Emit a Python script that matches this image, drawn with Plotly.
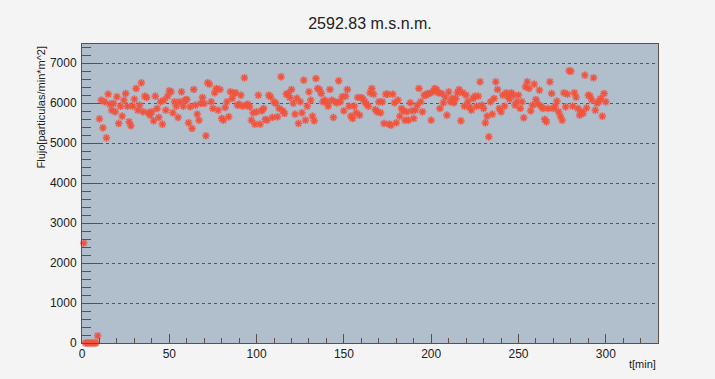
import plotly.graph_objects as go

# Flux measured every minute at 2592.83 m a.s.l.
# First minutes: detector start-up
startup_flux = [2500, 0, 0, 0, 0, 0, 0, 0, 180]

# Minutes 10-129
flux_a = [
    5608, 6075, 5383, 6033, 5133, 6225, 5975, 5825, 5992, 5783,
    6158, 5492, 5925, 5675, 6075, 6242, 5925, 5533, 5433, 5925,
    6100, 6367, 5825, 5950, 6508, 5783, 6175, 6142, 5758, 5700,
    5783, 5558, 6175, 5867, 5642, 6033, 5475, 6075, 5825, 6175,
    6308, 6283, 5758, 6033, 5925, 5642, 6033, 6283, 5925, 6075,
    6092, 5508, 5908, 5367, 6342, 5950, 5725, 5575, 5992, 6142, 5992,
    5183, 6508, 6475, 6033, 5867, 6258, 6367, 5825, 6342, 5617,
    5575, 5892, 6033, 5658, 6283, 6117, 6242, 6258, 5950, 5975,
    6200, 5925, 6633, 5950, 5975, 5908, 5575, 5758, 5475, 5783,
    6200, 5475, 5808, 5867, 5592, 5575, 6200, 6158, 5642, 6033,
    5992, 5658, 5867, 6658, 5808, 5742, 6225, 6242, 6142, 6342, 6000,
    5725, 6125, 5492, 6033, 5758, 6575, 5575, 5925,
]

# Minutes 130-300
flux_b = [
    6283, 6075, 5675, 5558, 6617, 6367, 6342, 6242, 6033, 6075,
    6033, 5925, 6342, 6075, 5642, 6033, 6008, 6558, 6033, 6158,
    5808, 6175, 6342, 5925, 5675, 5617, 5925, 5758, 6142, 5700,
    6142, 6100, 6033, 5975, 5925, 6258, 6367, 6225, 5842, 5783, 6033,
    5758, 6033, 5492, 6225, 6225, 5475, 5450, 6225, 6008, 5508,
    6075, 5675, 5867, 5808, 5575, 5783, 5575, 6008, 5808, 5617,
    5825, 5950, 6367, 6033, 5783, 6200, 6200, 6242, 6242, 5575, 6283,
    6367, 6342, 6258, 5867, 6242, 6008, 6150, 5700, 6283, 6033, 6117,
    6008, 6117, 6258, 6342, 5558, 6258, 5925, 6200, 6033, 5900, 5825,
    6117, 6175, 5925, 6175, 6533, 5950, 5867, 5508, 5675, 5158,
    6033, 5725, 6117, 6533, 6342, 5867, 5783, 6200, 5925, 6258,
    6158, 6100, 6258, 6200, 5950, 6033, 6200, 5867, 6033, 5633, 6408,
    6533, 6367, 5808, 5950, 6475, 6092, 5980, 6325, 5925, 5867, 5592,
    5533, 5867, 6533, 6242, 5867, 5925, 6050, 5783, 5675, 5575, 6258,
    5908, 6225, 6808, 6800, 5925, 6258, 6150, 5867, 5700, 5783, 5742,
    6700, 5880, 6200, 6175, 6075, 6633, 5825, 6000, 6033, 6117, 5675, 6242,
    6033,
]

flux = startup_flux + flux_a + flux_b
minutes = list(range(1, len(flux) + 1))

x_ticks = [0, 50, 100, 150, 200, 250, 300]
y_ticks = [0, 1000, 2000, 3000, 4000, 5000, 6000, 7000]

axis_color = "#5e4f4b"
font_family = "Liberation Sans, Arial, sans-serif"

fig = go.Figure()

# soft glow under each marker
fig.add_trace(go.Scatter(
    x=minutes, y=flux, mode="markers", cliponaxis=False,
    marker=dict(symbol="circle", size=8, color="rgba(240,105,130,0.32)",
                line=dict(width=0)),
    hoverinfo="skip",
))
# asterisk markers
fig.add_trace(go.Scatter(
    x=minutes, y=flux, mode="markers", cliponaxis=False,
    marker=dict(symbol="asterisk-open", size=6,
                line=dict(color="#e0121e", width=1.3)),
))

fig.update_layout(
    width=715, height=379,
    margin=dict(l=82, r=57, t=44, b=36),
    paper_bgcolor="#f4f4f4",
    plot_bgcolor="#b1bfcc",
    showlegend=False,
    font=dict(family=font_family, color="#222222"),
    title=dict(text="2592.83 m.s.n.m.", x=0.5, xref="paper",
               y=1 - 23 / 379, yanchor="middle",
               font=dict(size=16, color="#222222")),
)

fig.update_xaxes(
    range=[0, 329.9], tickvals=x_ticks, ticks="inside", ticklen=9,
    tickwidth=1, tickcolor=axis_color, showgrid=False, zeroline=False,
    showline=True, linecolor=axis_color, linewidth=1, mirror=True,
    tickfont=dict(size=12, color="#222222"),
    minor=dict(dtick=10, tick0=0, ticks="inside", ticklen=5,
               tickcolor=axis_color, showgrid=False),
)
fig.update_yaxes(
    range=[0, 7480], tickvals=y_ticks, ticks="inside", ticklen=18,
    tickwidth=1, tickcolor=axis_color, zeroline=False,
    showgrid=True, gridcolor="#555555", gridwidth=1, griddash="dot",
    showline=True, linecolor=axis_color, linewidth=1, mirror=True,
    tickfont=dict(size=12, color="#222222"), ticklabelstandoff=2,
    minor=dict(dtick=200, tick0=0, ticks="inside", ticklen=9,
               tickcolor=axis_color, showgrid=False),
)

# axis titles aligned to the far ends of the axes
fig.add_annotation(
    text="Flujo[particulas/min*m^2]", textangle=-90,
    xref="paper", yref="paper", x=0, y=1,
    xanchor="right", yanchor="top", xshift=-34, showarrow=False,
    font=dict(size=11, color="#222222"),
)
fig.add_annotation(
    text="t[min]", xref="paper", yref="paper", x=1, y=0,
    xanchor="right", yanchor="top", yshift=-13, showarrow=False,
    font=dict(size=11, color="#222222"),
)

fig.write_html("out.html")
